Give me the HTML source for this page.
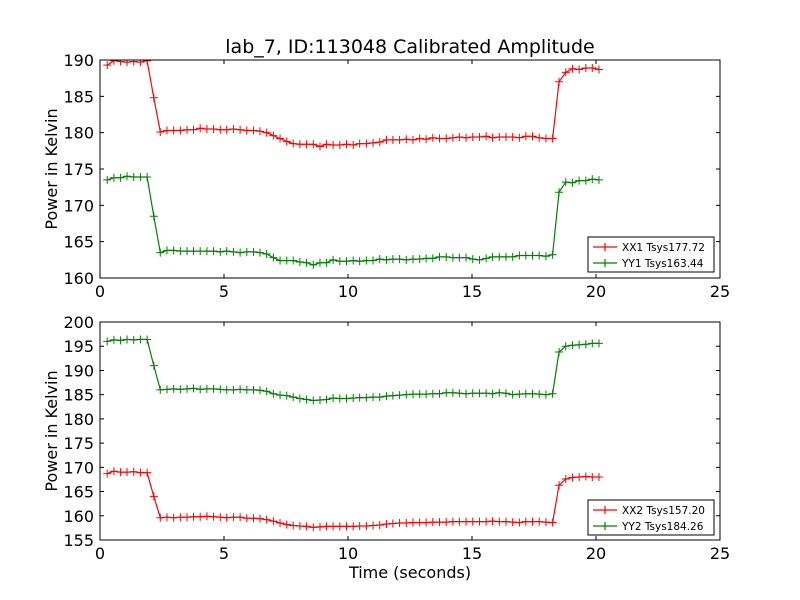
<!DOCTYPE html>
<html><head><meta charset="utf-8"><style>body{margin:0;background:#fff}svg{display:block;font-family:"DejaVu Sans","Liberation Sans",sans-serif}</style></head>
<body>
<svg id="c" width="800" height="600" viewBox="0 0 800 600">
<rect width="800" height="600" fill="#fff"/>
<text x="410" y="53" font-size="19" text-anchor="middle">lab_7, ID:113048 Calibrated Amplitude</text>
<text x="410" y="578" font-size="16" text-anchor="middle">Time (seconds)</text>
</svg>
<script>
const times=[0.29,0.56,0.83,1.09,1.36,1.63,1.90,2.17,2.43,2.70,2.97,3.24,3.51,3.77,4.04,4.31,4.58,4.85,5.11,5.38,5.65,5.92,6.19,6.45,6.72,6.99,7.26,7.53,7.79,8.06,8.33,8.60,8.87,9.13,9.40,9.67,9.94,10.21,10.47,10.74,11.01,11.28,11.55,11.81,12.08,12.35,12.62,12.89,13.15,13.42,13.69,13.96,14.23,14.49,14.76,15.03,15.30,15.57,15.83,16.10,16.37,16.64,16.91,17.17,17.44,17.71,17.98,18.25,18.51,18.78,19.05,19.32,19.59,19.85,20.12];
const xx1=[189.3,189.9,189.8,189.7,189.8,189.7,189.9,184.8,180.1,180.3,180.3,180.3,180.4,180.4,180.6,180.5,180.5,180.4,180.4,180.5,180.4,180.3,180.3,180.2,180.0,179.6,179.2,178.8,178.5,178.4,178.4,178.4,178.1,178.4,178.3,178.3,178.4,178.3,178.5,178.5,178.6,178.7,179.0,179.0,179.0,179.1,179.0,179.2,179.1,179.3,179.2,179.2,179.3,179.4,179.3,179.4,179.4,179.5,179.3,179.4,179.4,179.4,179.3,179.5,179.5,179.3,179.2,179.2,187.0,188.3,188.8,188.7,188.9,188.9,188.7];
const yy1=[173.5,173.8,173.8,174.0,173.9,173.9,173.9,168.5,163.5,163.8,163.8,163.7,163.7,163.7,163.7,163.7,163.7,163.6,163.7,163.6,163.5,163.6,163.6,163.5,163.3,162.8,162.4,162.4,162.4,162.2,162.1,161.8,162.1,162.1,162.5,162.3,162.3,162.4,162.3,162.4,162.4,162.6,162.5,162.6,162.6,162.5,162.6,162.6,162.7,162.7,162.9,162.9,162.8,162.8,162.8,162.6,162.5,162.7,162.9,162.9,162.9,162.9,163.1,163.1,163.1,163.1,163.0,163.2,171.8,173.2,173.1,173.4,173.4,173.6,173.5];
const xx2=[168.7,169.2,169.0,169.0,169.1,168.9,168.9,164.0,159.6,159.7,159.6,159.7,159.7,159.8,159.8,159.9,159.8,159.7,159.6,159.7,159.7,159.5,159.5,159.4,159.2,158.9,158.5,158.2,158.0,157.9,157.8,157.6,157.7,157.8,157.8,157.8,157.8,157.8,157.9,157.9,158.0,158.1,158.3,158.4,158.5,158.5,158.6,158.6,158.6,158.7,158.7,158.7,158.8,158.8,158.8,158.8,158.8,158.8,158.9,158.8,158.8,158.7,158.6,158.8,158.8,158.8,158.7,158.6,166.3,167.6,167.9,168.0,168.1,168.0,168.0];
const yy2=[196.0,196.3,196.2,196.4,196.3,196.4,196.4,191.0,186.0,186.1,186.2,186.1,186.2,186.3,186.1,186.2,186.2,186.1,186.0,186.0,186.1,186.0,186.0,185.9,185.7,185.2,184.9,184.8,184.5,184.2,184.0,183.8,183.9,184.0,184.3,184.2,184.2,184.3,184.4,184.4,184.5,184.5,184.7,184.8,184.9,185.0,185.1,185.1,185.1,185.2,185.2,185.4,185.4,185.3,185.2,185.3,185.3,185.3,185.2,185.4,185.3,185.0,185.1,185.2,185.2,185.1,185.0,185.2,193.8,195.0,195.2,195.3,195.4,195.6,195.6];
const xTicks=[0,5,10,15,20,25];
const yTicksTop=[160,165,170,175,180,185,190];
const yTicksBot=[155,160,165,170,175,180,185,190,195,200];
const legendTop=["XX1 Tsys177.72","YY1 Tsys163.44"];
const legendBot=["XX2 Tsys157.20","YY2 Tsys184.26"];

const NS="http://www.w3.org/2000/svg";
const svg=document.getElementById('c');
function mk(tag,attrs,parent){const e=document.createElementNS(NS,tag);for(const k in attrs)e.setAttribute(k,attrs[k]);(parent||svg).appendChild(e);return e;}
const L=100,R=720;
function xs(t){return L+(t-0)/(25-0)*(R-L);}

function panel(id,top,bot,ymin,ymax,yticks,series,legend,legY){
  const ys=v=>bot-(v-ymin)/(ymax-ymin)*(bot-top);
  const g=mk('g',{});
  
  
  mk('clipPath',{id:'clip'+id},g).appendChild(document.createElementNS(NS,'rect'));
  const cr=g.querySelector('clipPath rect');cr.setAttribute('x',L);cr.setAttribute('y',top);cr.setAttribute('width',R-L);cr.setAttribute('height',bot-top);
  series.forEach(s=>{
    const sg=mk('g',{'clip-path':'url(#clip'+id+')'},g);
    
    
    const pts=s.vals.map((v,i)=>xs(times[i]).toFixed(1)+','+ys(v).toFixed(1)).join(' ');
    const pl=mk('polyline',{points:pts,fill:'none',stroke:s.color,'stroke-width':1.2},sg);
    
    
    s.vals.forEach((v,i)=>{
      const x=xs(times[i]),y=ys(v);
      const m=mk('path',{d:`M${x-4},${y}H${x+4}M${x},${y-4}V${y+4}`,stroke:s.color,'stroke-width':1},sg);
      
      
    });
  });
  const fr=mk('rect',{x:L,y:top,width:R-L,height:bot-top,fill:'none',stroke:'#000','stroke-width':1},g);
  
  
  xTicks.forEach(t=>{
    const x=xs(t);
    mk('path',{d:`M${x},${bot}v-4M${x},${top}v4`,stroke:'#000'},g);
    const tx=mk('text',{x:x,y:bot+19,'font-size':16,'text-anchor':'middle'},g);
    tx.textContent=t;
    
    
  });
  yticks.forEach(v=>{
    const y=ys(v);
    mk('path',{d:`M${L},${y}h4M${R},${y}h-4`,stroke:'#000'},g);
    const tx=mk('text',{x:L-6,y:y+6,'font-size':16,'text-anchor':'end'},g);
    tx.textContent=v;
    
    
  });
  const yl=mk('text',{x:0,y:0,'font-size':16,'text-anchor':'middle',transform:`translate(57,${(top+bot)/2}) rotate(-90)`},g);
  yl.textContent='Power in Kelvin';
  
  
  const lg=mk('g',{},g);
  
  
  mk('rect',{x:588,y:legY,width:126,height:35,fill:'#fff',stroke:'#000'},lg);
  legend.forEach((lab,i)=>{
    const y=legY+10+i*16,c=series[i].color;
    const e=mk('g',{},lg);
    
    
    mk('path',{d:`M593,${y}h24M605,${y-4}v8`,stroke:c,'stroke-width':1.2},e);
    const t=mk('text',{x:622,y:y+4,'font-size':10.5},e);
    t.textContent=lab;
  });
}
panel('top',60,278,160,190,yTicksTop,[{name:'xx1',vals:xx1,color:'#ff0000'},{name:'yy1',vals:yy1,color:'#008000'}],legendTop,237);
panel('bottom',322,540,155,200,yTicksBot,[{name:'xx2',vals:xx2,color:'#ff0000'},{name:'yy2',vals:yy2,color:'#008000'}],legendBot,500);
</script>
</body></html>
